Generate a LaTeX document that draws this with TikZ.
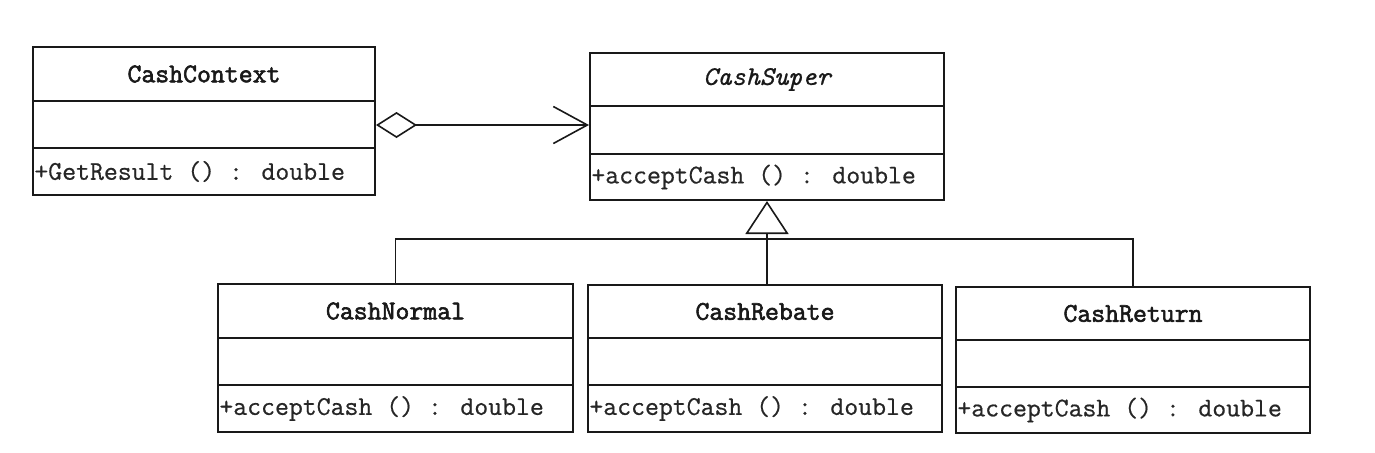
\documentclass[tikz,border=0pt]{standalone}
\usepackage{fontspec}
\newfontfamily\umlfont[FakeBold=0.6]{Latin Modern Mono}
\newfontfamily\umltitlefont[FakeBold=2.2]{Latin Modern Mono}
\usetikzlibrary{arrows.meta,fit}
\tikzset{
  frame/.style={draw=black!90, line width=1pt, inner sep=0pt},
  divider/.style={draw=black!90, line width=1pt},
  titletext/.style={font=\umltitlefont\fontsize{13.5}{15}\selectfont, text=black!90, inner sep=0pt},
  italictitletext/.style={font=\umlfont\itshape\fontsize{13.5}{15}\selectfont, text=black!90, inner sep=0pt},
  membertext/.style={font=\umlfont\fontsize{13.5}{15}\selectfont, text=black!85, inner sep=0pt, anchor=west},
  link/.style={draw=black!90, line width=0.8pt},
}
% #1 name, #2 left, #3 top, #4 right, #5 bottom, #6 divider1, #7 divider2, #8 title, #9 member
\newcommand\umlclass[9]{%
  \node[frame, fit={(#2,#3) (#4,#5)}] (#1) {};
  \draw[divider] (#2,#6) -- (#4,#6);
  \draw[divider] (#2,#7) -- (#4,#7);
  \node[titletext] (#1-title) at ({(#2+#4)/2},{(#3+#6)/2}) {#8};
  \node[membertext] (#1-op) at ({#2+1},{(#7+#5)/2}) {#9};
}
\begin{document}
\begin{tikzpicture}[x=0.5pt,y=-0.5pt]
  \fill[white] (0,0) rectangle (1375,452);
  \useasboundingbox (0,0) rectangle (1375,452);
  \umlclass{ctx}{33}{47}{375}{195}{101}{148}{CashContext}{+GetResult () : double}
  \umlclass{super}{590}{53}{944}{200}{106}{154}{}{+acceptCash () : double}
  \node[italictitletext] (super-name) at (super-title) {CashSuper};
  \umlclass{normal}{218}{284}{573}{432}{338}{385}{CashNormal}{+acceptCash () : double}
  \umlclass{rebate}{588}{285}{942}{432}{338}{385}{CashRebate}{+acceptCash () : double}
  \umlclass{return}{956}{287}{1310}{433}{340}{387}{CashReturn}{+acceptCash () : double}
  % aggregation
  \coordinate (aggy) at (0,125);
  \draw[link, {Diamond[open, length=20.5pt, width=13pt, line width=0.8pt]}-{Straight Barb[length=17pt, width=18.5pt, line width=0.8pt]}]
    (ctx.east |- aggy) -- (super.west |- aggy);
  % generalization
  \coordinate (bus) at (0,239);
  \draw[link, -{Triangle[open, length=16.5pt, width=21.5pt, line width=0.8pt]}] (rebate.north -| super.south) -- (super.south);
  \draw[link] (normal.north) |- (bus -| super.south) -| (return.north);
\end{tikzpicture}
\end{document}
